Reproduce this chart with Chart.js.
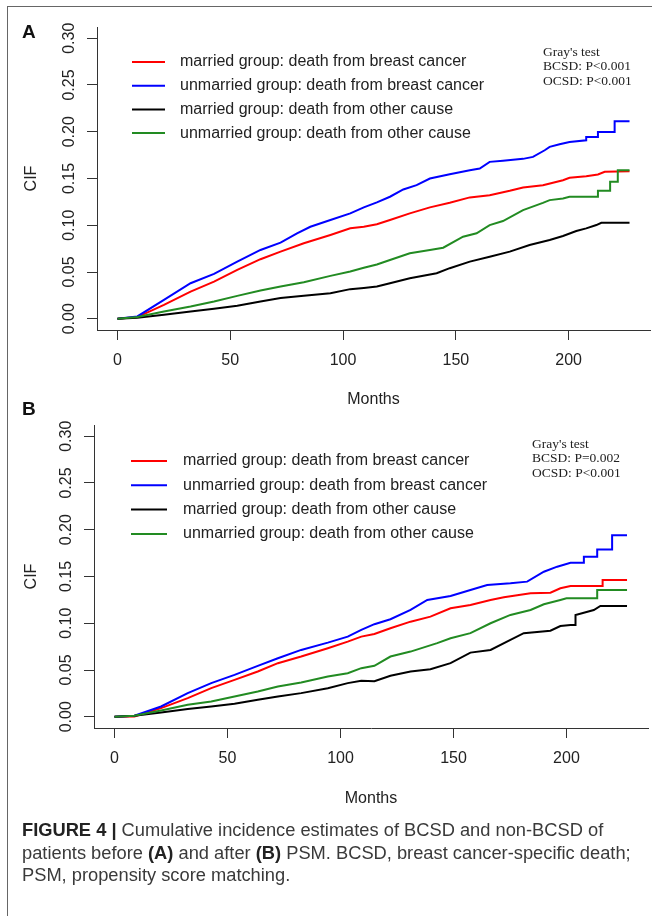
<!DOCTYPE html>
<html>
<head>
<meta charset="utf-8">
<script src="https://cdn.jsdelivr.net/npm/chart.js@4.4.0/dist/chart.umd.min.js"></script>
<style>
    body { margin: 0; background: #fff; width: 652px; height: 916px; overflow: hidden; position: relative; font-family: "Liberation Sans", Arial, sans-serif; }
    .frame { position: absolute; left: 7px; top: 6px; width: 700px; height: 950px; border-left: 1px solid #666; border-top: 1px solid #666; }
    canvas { position: absolute; left: 0; }
    .tag { position: absolute; left: 22px; font-weight: bold; font-size: 19px; line-height: 22px; color: #111; }
    .caption { position: absolute; left: 22px; top: 819px; font-size: 18.3px; line-height: 22.5px; color: #3a3a3a; white-space: nowrap; }
    .caption b { color: #222; }
</style>
</head>
<body>
<div class="frame"></div>
<canvas id="chartA" width="652" height="415" style="top:0"></canvas>
<canvas id="chartB" width="652" height="420" style="top:395px"></canvas>
<div class="tag" style="top:21px">A</div>
<div class="tag" style="top:398px">B</div>
<div class="caption"><b>FIGURE 4 |</b> Cumulative incidence estimates of BCSD and non-BCSD of<br>patients before <b>(A)</b> and after <b>(B)</b> PSM. BCSD, breast cancer-specific death;<br>PSM, propensity score matching.</div>

<script>
// ---- data (months, cumulative incidence) ----
const seriesLabels = [
    'married group: death from breast cancer',
    'unmarried group: death from breast cancer',
    'married group: death from other cause',
    'unmarried group: death from other cause'
];
const seriesColors = ['#ff0000', '#0000ff', '#000000', '#228b22'];

const xTicks = [0, 50, 100, 150, 200];
const yTicks = [0, 0.05, 0.10, 0.15, 0.20, 0.25, 0.30];

const grayTestA = ["Gray's test", 'BCSD: P<0.001', 'OCSD: P<0.001'];
const grayTestB = ["Gray's test", 'BCSD: P=0.002', 'OCSD: P<0.001'];

// panel A (before PSM)
const aMarriedBcsdT   = [0, 8.8, 20.6, 32.4, 42.8, 53.1, 63.4, 72.3, 82.6, 94.4, 103.2, 109.2, 115, 120.8, 129.6, 138.5, 147.3, 156.2, 165, 173.9, 179.8, 188.6, 197.5, 200.4, 207.8, 213, 216, 227];
const aMarriedBcsdCif = [0, 0.0018, 0.0149, 0.0291, 0.0398, 0.0523, 0.0637, 0.0718, 0.0807, 0.0896, 0.0967, 0.0984, 0.101, 0.1056, 0.1127, 0.1191, 0.124, 0.1298, 0.1322, 0.1368, 0.1404, 0.1429, 0.1482, 0.1507, 0.1525, 0.1543, 0.1571, 0.1578];

const aUnmarriedBcsdT   = [0, 8.8, 20.6, 32.4, 42.8, 53.1, 63.4, 72.3, 79.6, 85.5, 94.4, 103.2, 109.2, 115, 120.8, 126.7, 132.6, 138.5, 147.3, 156.2, 160.6, 165, 170.9, 179.8, 184.2, 189.4, 191.6, 196, 200.4, 207.8, 207.8, 213, 213, 220.4, 220.4, 227];
const aUnmarriedBcsdCif = [0, 0.0025, 0.0203, 0.038, 0.048, 0.0611, 0.0736, 0.0814, 0.0914, 0.0984, 0.1056, 0.1127, 0.1191, 0.1245, 0.1305, 0.1383, 0.1429, 0.150, 0.1546, 0.1589, 0.1607, 0.1678, 0.1689, 0.171, 0.1731, 0.1802, 0.1838, 0.1866, 0.1891, 0.1909, 0.1944, 0.1944, 0.1997, 0.1997, 0.2111, 0.2111];

const aMarriedOcsdT   = [0, 8.8, 20.6, 32.4, 42.8, 53.1, 63.4, 72.3, 82.6, 94.4, 103.2, 109.2, 115, 120.8, 129.6, 141.5, 147.3, 156.2, 165, 173.9, 182.7, 191.6, 197.5, 203.4, 207.8, 212.3, 214.5, 227];
const aMarriedOcsdCif = [0, 0.0011, 0.0043, 0.0078, 0.0107, 0.0139, 0.0185, 0.0221, 0.0245, 0.0274, 0.0317, 0.033, 0.0345, 0.038, 0.0434, 0.0487, 0.0541, 0.0611, 0.0664, 0.0718, 0.0789, 0.0842, 0.0885, 0.0938, 0.0967, 0.1002, 0.1027, 0.1027];

const aUnmarriedOcsdT   = [0, 8.8, 20.6, 32.4, 42.8, 53.1, 63.4, 72.3, 82.6, 94.4, 103.2, 109.2, 115, 120.8, 129.6, 138.5, 144.4, 153.2, 159.2, 165, 170.9, 179.8, 188.6, 191.6, 197.5, 200.4, 213, 213, 218.4, 218.4, 221.8, 221.8, 227];
const aUnmarriedOcsdCif = [0, 0.0018, 0.0078, 0.0131, 0.0185, 0.0245, 0.0302, 0.0345, 0.0391, 0.0459, 0.0505, 0.0545, 0.058, 0.0629, 0.07, 0.0736, 0.076, 0.0878, 0.0914, 0.1002, 0.1045, 0.1162, 0.124, 0.1269, 0.1287, 0.1305, 0.1305, 0.1368, 0.1368, 0.1464, 0.1464, 0.1589, 0.1589];

// panel B (after PSM)
const bMarriedBcsdT   = [0, 8.8, 20.6, 32.4, 42.8, 53.1, 63.4, 72.3, 82.6, 94.4, 103.2, 109.2, 115, 122.1, 131, 139.8, 148.7, 157.5, 166.4, 172.3, 184.1, 192.9, 197.3, 201.8, 216, 216, 226.8];
const bMarriedBcsdCif = [0, 0.0004, 0.0093, 0.02, 0.0306, 0.0395, 0.0484, 0.0573, 0.0644, 0.0733, 0.0804, 0.0857, 0.0885, 0.0947, 0.1017, 0.1071, 0.116, 0.1196, 0.1249, 0.1278, 0.1321, 0.1327, 0.1374, 0.1399, 0.1399, 0.1463, 0.1463];

const bUnmarriedBcsdT   = [0, 8.8, 20.6, 32.4, 42.8, 53.1, 63.4, 72.3, 82.6, 94.4, 103.2, 109.2, 115, 122.1, 131, 138.4, 148.7, 157.5, 164.9, 175.2, 182.6, 190, 195.9, 201.8, 207.7, 207.7, 213.6, 213.6, 220.2, 220.2, 226.8];
const bUnmarriedBcsdCif = [0, 0.0011, 0.011, 0.0253, 0.036, 0.0448, 0.0544, 0.0626, 0.0715, 0.0793, 0.0857, 0.0929, 0.099, 0.1043, 0.1142, 0.1249, 0.1292, 0.1356, 0.1409, 0.1427, 0.1445, 0.1551, 0.1605, 0.1647, 0.1647, 0.1711, 0.1711, 0.179, 0.179, 0.194, 0.194];

const bMarriedOcsdT   = [0, 8.8, 20.6, 32.4, 42.8, 53.1, 63.4, 72.3, 82.6, 94.4, 103.2, 109.2, 115, 122.1, 131, 139.8, 148.7, 157.5, 166.4, 175.2, 181.1, 192.9, 197.3, 201.8, 204, 204, 212.1, 215, 226.8];
const bMarriedOcsdCif = [0, 0.0011, 0.0046, 0.0082, 0.011, 0.0139, 0.0181, 0.0217, 0.0253, 0.0306, 0.036, 0.0384, 0.038, 0.0438, 0.0484, 0.0509, 0.0573, 0.0686, 0.0715, 0.0822, 0.0894, 0.0921, 0.0971, 0.0982, 0.0982, 0.1089, 0.1142, 0.1185, 0.1185];

const bUnmarriedOcsdT   = [0, 8.8, 20.6, 32.4, 42.8, 53.1, 63.4, 72.3, 82.6, 94.4, 103.2, 109.2, 115, 122.1, 131, 142.8, 148.7, 157.5, 166.4, 175.2, 184.1, 190, 197.3, 200, 213.6, 213.6, 226.8];
const bUnmarriedOcsdCif = [0, 0.0011, 0.0068, 0.0128, 0.0164, 0.0217, 0.027, 0.0324, 0.0367, 0.043, 0.0466, 0.052, 0.0545, 0.0644, 0.0697, 0.0787, 0.084, 0.0894, 0.1, 0.1089, 0.1142, 0.1203, 0.1249, 0.1267, 0.1267, 0.1356, 0.1356];

// ---- drawing ----
const FONT = '"Liberation Sans", Arial, sans-serif';

// legend lines + Gray's test note, drawn inside the plot
const cifLegend = {
    id: 'cifLegend',
    afterDraw(chart, args, o) {
        const ctx = chart.ctx;
        ctx.save();
        ctx.font = '16px ' + FONT;
        ctx.textBaseline = 'middle';
        ctx.textAlign = 'left';
        chart.data.datasets.forEach((ds, i) => {
            const y = o.y + i * o.gap;
            ctx.strokeStyle = ds.borderColor;
            ctx.lineWidth = 2;
            ctx.beginPath();
            ctx.moveTo(o.x1, y);
            ctx.lineTo(o.x2, y);
            ctx.stroke();
            ctx.fillStyle = '#222';
            ctx.fillText(ds.label, o.tx, y);
        });
        ctx.font = '13.5px "Liberation Serif", "Times New Roman", serif';
        o.note.forEach((s, i) => ctx.fillText(s, o.nx, o.ny + i * 14.5));
        ctx.restore();
    }
};

function toPoints(t, v) {
    return t.map((x, i) => ({ x, y: v[i] }));
}

function makePanel(id, series, box, legend) {
    const datasets = series.map((s, i) => ({
        label: seriesLabels[i],
        data: toPoints(s[0], s[1]),
        borderColor: seriesColors[i],
        borderWidth: 2,
        pointRadius: 0,
        tension: 0,
        fill: false,
        order: series.length - i
    }));

    new Chart(document.getElementById(id), {
        type: 'line',
        data: { datasets },
        options: {
            responsive: false,
            animation: false,
            layout: { padding: { left: 0, top: box.top, right: box.right, bottom: 0 } },
            plugins: { legend: { display: false }, tooltip: { enabled: false }, cifLegend: legend },
            scales: {
                x: {
                    type: 'linear',
                    min: -9.08,
                    max: 236.08,
                    afterBuildTicks: sc => { sc.ticks = xTicks.map(v => ({ value: v })); },
                    afterFit: sc => { sc.height = box.xh; sc.paddingLeft = 0; sc.paddingRight = 0; },
                    grid: { drawOnChartArea: false, tickLength: 10, tickColor: '#333', lineWidth: 1 },
                    border: { display: true, color: '#333', width: 1 },
                    ticks: { color: '#222', padding: 11, font: { size: 16, family: FONT }, maxRotation: 0 },
                    title: { display: true, text: 'Months', color: '#222', font: { size: 16, family: FONT }, padding: { bottom: box.tb } }
                },
                y: {
                    type: 'linear',
                    min: -0.012,
                    max: 0.312,
                    afterBuildTicks: sc => { sc.ticks = yTicks.map(v => ({ value: v })); },
                    afterFit: sc => { sc.width = box.yw; sc.paddingTop = 0; sc.paddingBottom = 0; },
                    grid: { drawOnChartArea: false, tickLength: 10, tickColor: '#333', lineWidth: 1 },
                    border: { display: true, color: '#333', width: 1 },
                    ticks: {
                        color: '#222', padding: 2, crossAlign: 'center',
                        minRotation: 90, maxRotation: 90,
                        font: { size: 16, family: FONT },
                        callback: v => v.toFixed(2)
                    },
                    title: { display: true, text: 'CIF', color: '#222', font: { size: 16, family: FONT }, padding: { top: 22 } }
                }
            }
        },
        plugins: [cifLegend]
    });
}

makePanel('chartA', [
    [aMarriedBcsdT, aMarriedBcsdCif],
    [aUnmarriedBcsdT, aUnmarriedBcsdCif],
    [aMarriedOcsdT, aMarriedOcsdCif],
    [aUnmarriedOcsdT, aUnmarriedOcsdCif]
], { top: 27, right: 2, xh: 85, yw: 97, tb: 5.4 },
   { x1: 132, x2: 165, tx: 180, y: 62, gap: 23.7, note: grayTestA, nx: 543, ny: 52 });

makePanel('chartB', [
    [bMarriedBcsdT, bMarriedBcsdCif],
    [bUnmarriedBcsdT, bUnmarriedBcsdCif],
    [bMarriedOcsdT, bMarriedOcsdCif],
    [bUnmarriedOcsdT, bUnmarriedOcsdCif]
], { top: 30, right: 4, xh: 87, yw: 94, tb: 6.4 },
   { x1: 131, x2: 167, tx: 183, y: 66, gap: 24.3, note: grayTestB, nx: 532, ny: 49 });
</script>
</body>
</html>
